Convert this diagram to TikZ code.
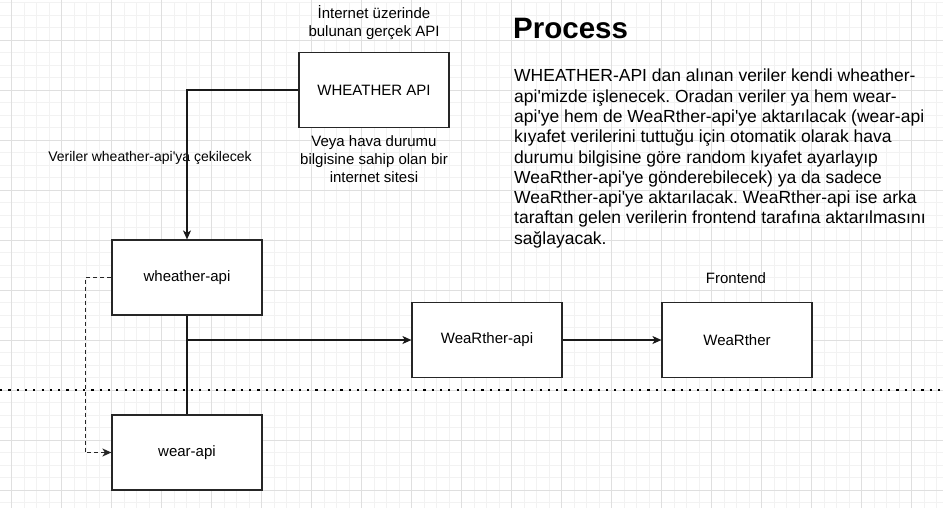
\documentclass[tikz,border=0pt]{standalone}
\usepackage{fontspec}
\setmainfont{Liberation Sans}[Ligatures=TeXOff]
\usetikzlibrary{arrows.meta,positioning}
\frenchspacing

\tikzset{
  caja/.style={draw=black!85, line width=1.2pt, fill=white,
    minimum width=150pt, minimum height=75pt, inner sep=0pt,
    font=\fontsize{15}{18}\selectfont},
  texto/.style={align=center, inner sep=0pt,
    font=\fontsize{15}{18}\selectfont},
  flecha/.style={line width=1.2pt, draw=black!90,
    -{Stealth[length=9pt,width=8pt,inset=2.5pt]}}
}

\begin{document}
\begin{tikzpicture}[x=1pt,y=-1pt]
  % Fondo y cuadricula
  \useasboundingbox (0,0) rectangle (943,507);
  \fill[white] (0,0) rectangle (943,507);
  \draw[gray!10, line width=0.8pt, shift={(-0.8,2.5)}] (0,0) grid[step=12.5pt] (950,510);
  \draw[gray!25, line width=0.8pt, shift={(11.7,-10)}] (-50,0) grid[step=50pt] (950,520);

  % Cajas
  \node[caja] (apireal) at (374,90) {WHEATHER API};
  \node[caja] (wheather) at (187,277.5) {wheather-api};
  \node[caja] (wear) at (187,452.5) {wear-api};
  \node[caja] (weartherapi) at (487,340) {WeaRther-api};
  \node[caja] (wearther) at (737,340) {WeaRther};

  % Textos
  \node[texto] (arriba) at (374,23) {İnternet üzerinde\\bulunan gerçek API};
  \node[texto] (abajo) at (374,159) {Veya hava durumu\\bilgisine sahip olan bir\\internet sitesi};
  \node[texto, font=\fontsize{14}{17}\selectfont] (cekme) at (150,158) {Veriler wheather-api'ya çekilecek};
  \node[texto] (frontend) at (736,278) {Frontend};
  \node[anchor=west, inner sep=0pt, font=\bfseries\fontsize{29.5}{32}\selectfont]
    (titulo) at (513,28) {Process};
  \node[anchor=north west, inner sep=0pt, align=left,
    font=\fontsize{17.5}{20.3}\selectfont] (parrafo) at (514,69)
    {WHEATHER-API dan alınan veriler kendi wheather-\\
     api'mizde işlenecek. Oradan veriler ya hem wear-\\
     api'ye hem de WeaRther-api'ye aktarılacak (wear-api\\
     kıyafet verilerini tuttuğu için otomatik olarak hava\\
     durumu bilgisine göre random kıyafet ayarlayıp\\
     WeaRther-api'ye gönderebilecek) ya da sadece\\
     WeaRther-api'ye aktarılacak. WeaRther-api ise arka\\
     taraftan gelen verilerin frontend tarafına aktarılmasını\\
     sağlayacak.};

  % Linea punteada
  \coordinate (izq) at (0,390);
  \coordinate (der) at (943,390);
  \draw[line width=2.2pt, dash pattern=on 2.2pt off 6.1pt] (izq) -- (der);

  % Conexiones
  \coordinate (rama) at (wheather.south |- weartherapi.west);
  \draw[flecha] (apireal.west) -| (wheather.north);
  \draw[line width=1.2pt, black!90] (wheather.south) -- (wear.north);
  \draw[flecha] (rama) -- (weartherapi.west);
  \draw[flecha] (weartherapi.east) -- (wearther.west);
  \draw[flecha, black!85, line width=1.4pt, dash pattern=on 4pt off 3pt]
    (wheather.west) -- ++(-26,0) |- (wear.west);
\end{tikzpicture}
\end{document}
